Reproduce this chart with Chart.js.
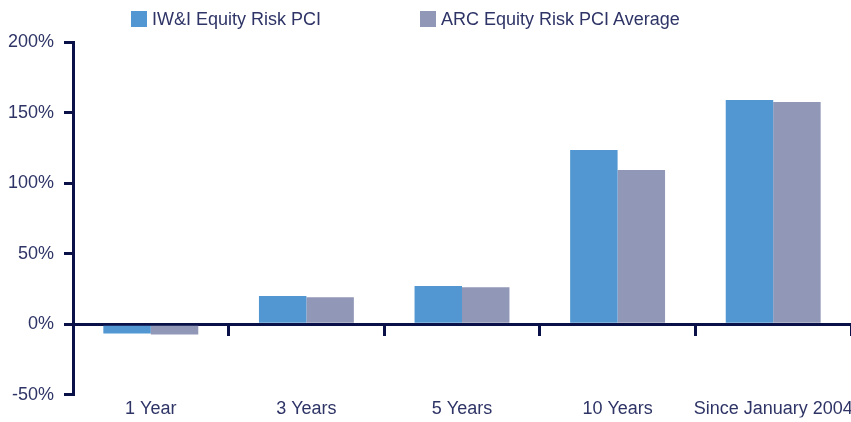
<!DOCTYPE html>
<html>
<head>
<meta charset="utf-8">
<script src="https://cdn.jsdelivr.net/npm/chart.js@4"></script>
<style>
  body { margin: 0; background: #fff; }
  #wrap { position: relative; width: 851px; height: 422px; }
  #legend { position: absolute; top: 0; left: 0; width: 851px; height: 40px; font-family: "Liberation Sans", Arial, sans-serif; font-size: 18px; color: #2e3466; }
  .item { position: absolute; top: 8px; line-height: 22px; white-space: nowrap; }
  .box { display: inline-block; width: 16px; height: 16px; vertical-align: -2px; margin-right: 5px; }
</style>
</head>
<body>
<div id="wrap">
  <div id="legend"></div>
  <canvas id="chart" width="851" height="422"></canvas>
</div>
<script>
const categories = ['1 Year', '3 Years', '5 Years', '10 Years', 'Since January 2004'];
const seriesNames = ['IW&I Equity Risk PCI', 'ARC Equity Risk PCI Average'];
const iwiValues = [-6.6, 19.9, 27, 123.4, 158.9];
const arcValues = [-7.3, 19.1, 26.2, 109.2, 157.4];
const yTicks = [-50, 0, 50, 100, 150, 200];

const colours = ['#5297d2', '#9197b7'];
const navy = '#0a1048';
const textColour = '#2e3466';
const font = { family: '"Liberation Sans", Arial, sans-serif', size: 18 };

// legend drawn as html so the wide gap between items can be kept
const legendLeft = [131, 420];
const legend = document.getElementById('legend');
seriesNames.forEach((name, i) => {
  const item = document.createElement('div');
  item.className = 'item';
  item.style.left = legendLeft[i] + 'px';
  item.innerHTML = '<span class="box" style="background:' + colours[i] + '"></span>';
  item.appendChild(document.createTextNode(name));
  legend.appendChild(item);
});

const ctx = document.getElementById('chart').getContext('2d');
new Chart(ctx, {
  type: 'bar',
  data: {
    labels: categories,
    datasets: [
      { label: seriesNames[0], data: iwiValues, backgroundColor: colours[0] },
      { label: seriesNames[1], data: arcValues, backgroundColor: colours[1] }
    ]
  },
  options: {
    responsive: false,
    animation: false,
    categoryPercentage: 0.61,
    barPercentage: 1,
    layout: { padding: { top: 42, right: 0, left: 0, bottom: 4.5 } },
    plugins: { legend: { display: false }, tooltip: { enabled: false } },
    scales: {
      // zero line with the category boundary ticks
      x: {
        position: { y: 0 },
        offset: true,
        grid: { offset: true, drawOnChartArea: false, color: navy, lineWidth: 3, tickLength: 10 },
        border: { display: true, color: navy, width: 3 },
        ticks: { display: false },
        afterFit: (scale) => { scale.height = 0; }
      },
      xLabels: {
        type: 'category',
        labels: categories,
        position: 'bottom',
        offset: true,
        grid: { display: false },
        border: { display: false },
        ticks: { color: textColour, font: font, padding: -4, maxRotation: 0, autoSkip: false },
        afterFit: (scale) => { scale.height = 22.8; scale.paddingLeft = 0; scale.paddingRight = 0; }
      },
      y: {
        min: -50,
        max: 200,
        afterBuildTicks: (scale) => { scale.ticks = yTicks.map(v => ({ value: v })); },
        afterFit: (scale) => { scale.width = 73; },
        grid: { drawOnChartArea: false, color: navy, lineWidth: 3, tickLength: 9 },
        border: { display: true, color: navy, width: 3 },
        ticks: { color: textColour, font: font, padding: 10, callback: (v) => v + '%' }
      }
    }
  }
});
</script>
</body>
</html>
